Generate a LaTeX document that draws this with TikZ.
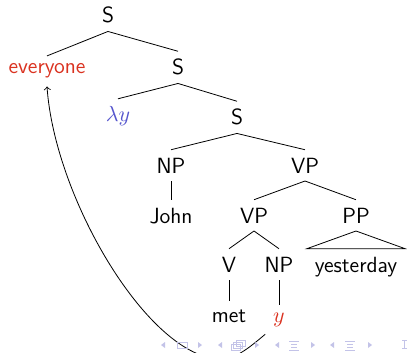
\documentclass[tikz,border=0pt]{standalone}
\definecolor{alertred}{RGB}{218,50,32}
\definecolor{lamblue}{RGB}{85,85,205}
\definecolor{navcol}{RGB}{195,195,232}
\begin{document}
\begin{tikzpicture}[x=0.5pt,y=-0.5pt,
  every node/.style={font=\fontsize{11}{13}\selectfont\sffamily, inner sep=3.8pt, anchor=base},
  edge/.style={line width=0.4pt},
  navline/.style={draw=navcol, line width=0.5pt},
  navfill/.style={fill=navcol}]
\useasboundingbox (0,0) rectangle (407,353);
% tree nodes
\node (S1) at (108,23) {S};
\node[text=alertred] (ev) at (47,74) {everyone};
\node (S2) at (178,75) {S};
\node[text=lamblue] (lam) at (118,122) {$\lambda y$};
\node (S3) at (237,125) {S};
\node (NP) at (171,173) {NP};
\node (VP) at (305,173) {VP};
\node (john) at (171,223) {John};
\node (VP2) at (254,223) {VP};
\node (PP) at (356,223) {PP};
\node (V) at (229,272) {V};
\node (NP2) at (279,272) {NP};
\node (yest) at (356,272) {yesterday};
\node (met) at (229,322) {met};
\node[text=alertred] (yv) at (279,322) {$y$};
% edges
\draw[edge] (S1.south) -- (ev.north);
\draw[edge] (S1.south) -- (S2.north);
\draw[edge] (S2.south) -- (lam.north);
\draw[edge] (S2.south) -- (S3.north);
\draw[edge] (S3.south) -- (NP.north);
\draw[edge] (S3.south) -- (VP.north);
\draw[edge] (NP.south) -- (john.north);
\draw[edge] (VP.south) -- (VP2.north);
\draw[edge] (VP.south) -- (PP.north);
\draw[edge] (VP2.south) -- (V.north);
\draw[edge] (VP2.south) -- (NP2.north);
\draw[edge] (V.south) -- (met.north);
\draw[edge] (NP2.south) -- (yv.north);
\draw[edge] (PP.south) -- (yest.north west) -- (yest.north east) -- cycle;
% movement arrow
\draw[edge,->] (yv.south west) .. controls (250,347) and (236,359) .. (221,359)
  .. controls (150,359) and (55,200) .. (ev.south);
% navigation symbols
\fill[navfill] (165,342) -- (161,345) -- (165,348) -- cycle;
\draw[navline] (177,342) rectangle (187,348);
\fill[navfill] (198,342) -- (202,345) -- (198,348) -- cycle;
\fill[navfill] (222,342) -- (218,345) -- (222,348) -- cycle;
\draw[navline] (231,344) rectangle (240,350);
\draw[navline] (233.5,342) rectangle (242.5,348);
\draw[navline] (236,340) rectangle (245,346);
\fill[navfill] (255,342) -- (259,345) -- (255,348) -- cycle;
\fill[navfill] (279,342) -- (275,345) -- (279,348) -- cycle;
\draw[navline] (289,341) -- (299,341) (291,344) -- (297,344) (291,347) -- (297,347) (289,350) -- (299,350);
\fill[navfill] (311,342) -- (315,345) -- (311,348) -- cycle;
\fill[navfill] (334,342) -- (330,345) -- (334,348) -- cycle;
\draw[navline] (345,341) -- (355,341) (347,344) -- (353,344) (347,347) -- (353,347) (345,350) -- (355,350);
\fill[navfill] (368,342) -- (372,345) -- (368,348) -- cycle;
\draw[navline] (402,340) -- (407,340) (404,340) -- (404,348) (402,348) -- (407,348);
\end{tikzpicture}
\end{document}
